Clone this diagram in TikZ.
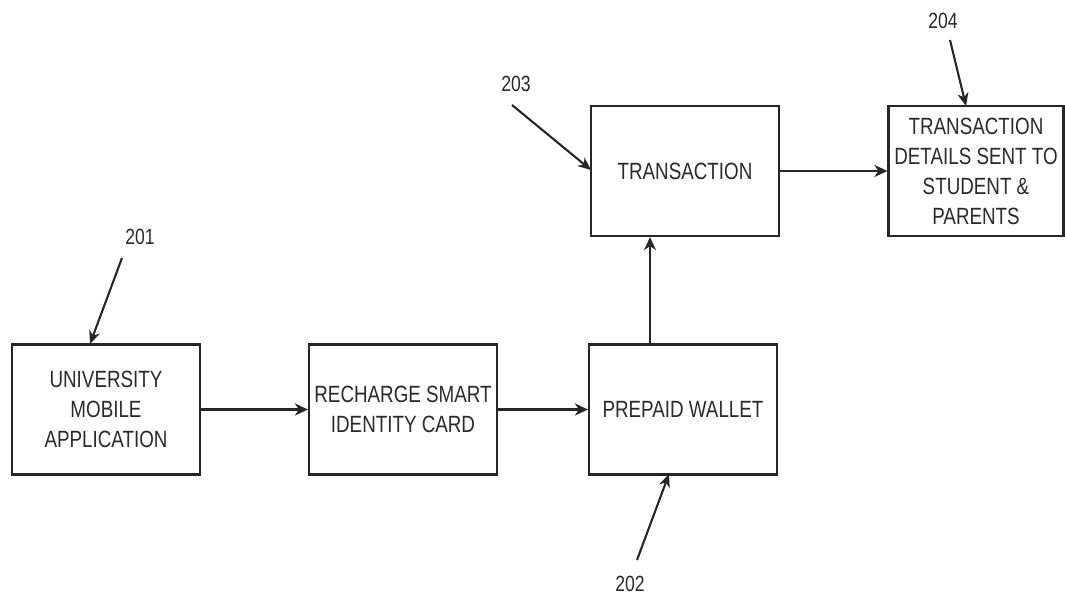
\documentclass[tikz,border=0pt]{standalone}
\usepackage{fontspec}
\setmainfont{Liberation Sans}[FakeStretch=0.8]
\usetikzlibrary{arrows.meta}
\definecolor{txt}{HTML}{2A2A2A}
\begin{document}
\begin{tikzpicture}[x=1pt,y=-1pt,
  box/.style={draw=black!85,line width=2.2pt,minimum width=188pt,minimum height=130pt,inner sep=0pt,
    align=center,text=txt,font=\fontsize{23.5}{30}\selectfont},
  num/.style={text=txt,font=\fontsize{22}{26}\selectfont,inner sep=1pt},
  flow/.style={draw=black!85,line width=2.6pt,-{Stealth[length=13pt,width=12pt,inset=4pt]}},
  lead/.style={draw=black!85,line width=2.1pt,-{Stealth[length=13pt,width=11pt,inset=4pt]}}]
\useasboundingbox (0,0) rectangle (1065,597);
\node[box] (b1) at (106,409.5) {UNIVERSITY\\MOBILE\\APPLICATION};
\node[box] (b2) at (403,409.5) {RECHARGE SMART\\IDENTITY CARD};
\node[box] (b3) at (683,409.5) {PREPAID WALLET};
\node[box] (b4) at (685,171) {TRANSACTION};
\node[box,minimum width=175pt] (b5) at (976,171) {TRANSACTION\\DETAILS SENT TO\\STUDENT \&\\PARENTS};
\draw[flow] (b1.east) -- (b2.west);
\draw[flow] (b2.east) -- (b3.west);
\draw[flow,line width=1.8pt] (b3.north -| 650,0) -- (b4.south -| 650,0);
\draw[flow] (b4.east) -- (b5.west);
\node[num] (n201) at (140,237) {201};
\node[num] (n202) at (630,584) {202};
\node[num] (n203) at (516,84) {203};
\node[num] (n204) at (943,21) {204};
\coordinate (s201) at (122,258); \coordinate (e201) at (90,344);
\coordinate (s202) at (637,560); \coordinate (e202) at (669,474);
\coordinate (s203) at (512,105); \coordinate (e203) at (591,170);
\coordinate (s204) at (950,40);  \coordinate (e204) at (966,106);
\draw[lead] (s201) -- (e201);
\draw[lead] (s202) -- (e202);
\draw[lead] (s203) -- (e203);
\draw[lead] (s204) -- (e204);
\end{tikzpicture}
\end{document}
